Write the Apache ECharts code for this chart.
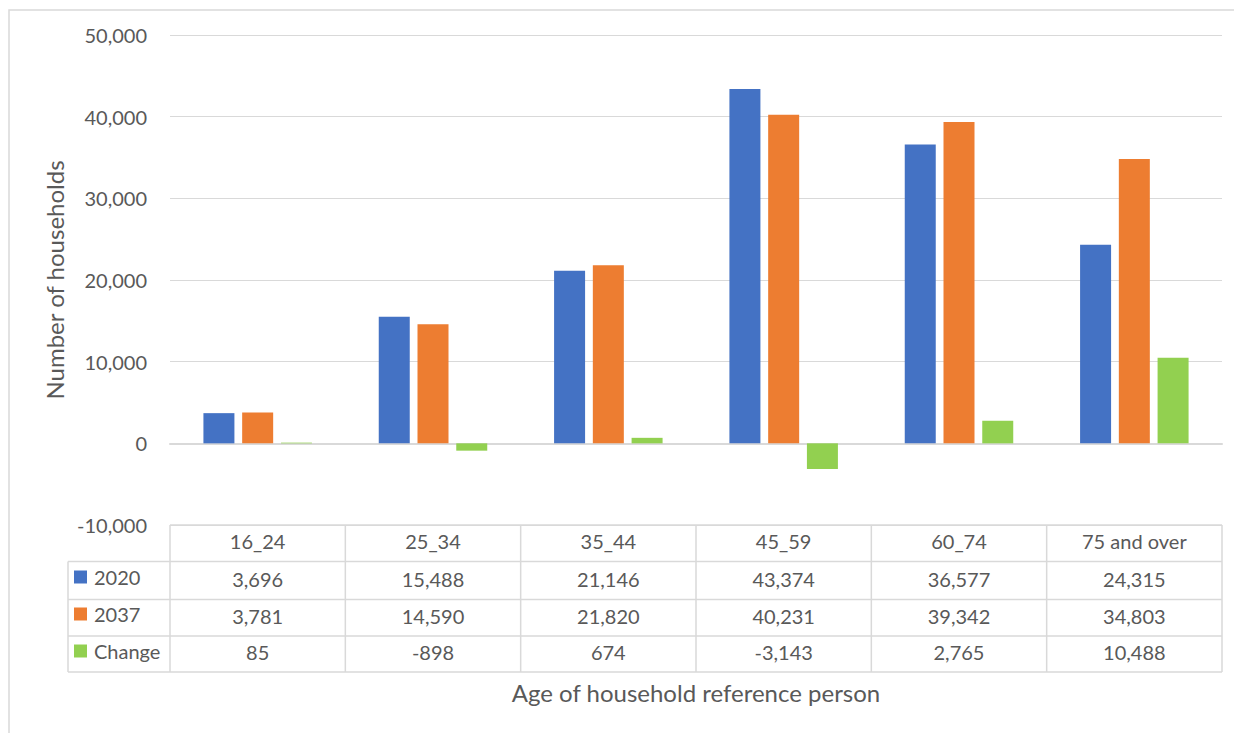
<!DOCTYPE html>
<html>
<head>
<meta charset="utf-8">
<script src="https://cdn.jsdelivr.net/npm/echarts@6/dist/echarts.min.js"></script>
<style>
  html, body { margin: 0; padding: 0; background: #ffffff; }
  #chart { width: 1234px; height: 733px; }
</style>
</head>
<body>
<div id="chart"></div>
<script>
// Households by age of household reference person, 2020 vs 2037
const ageGroups = ['16_24', '25_34', '35_44', '45_59', '60_74', '75 and over'];
const households2020 = [3696, 15488, 21146, 43374, 36577, 24315];
const households2037 = [3781, 14590, 21820, 40231, 39342, 34803];
const householdChange = [85, -898, 674, -3143, 2765, 10488];
const seriesNames = ['2020', '2037', 'Change'];
const yMin = -10000, yMax = 50000, yStep = 10000;

const colours = ['#4472C4', '#ED7D31', '#92D050'];
const textGrey = '#595959';
const lineGrey = '#D9D9D9';
const fontFamily = 'Lato, "Open Sans", sans-serif';
const fmt = v => v.toLocaleString('en-US');

const chart = echarts.init(document.getElementById('chart'), null, { renderer: 'svg' });

const seriesData = [households2020, households2037, householdChange];

chart.setOption({
  animation: false,
  color: colours,
  textStyle: { fontFamily: fontFamily },
  grid: { left: 170, right: 12, top: 35, bottom: 208, containLabel: false },
  legend: {
    data: seriesNames,
    orient: 'vertical',
    left: 74,
    top: 567,
    padding: 0,
    itemWidth: 13,
    itemHeight: 13,
    itemGap: 17,
    icon: 'rect',
    selectedMode: false,
    textStyle: { color: textGrey, fontSize: 20, lineHeight: 20, fontFamily: fontFamily, padding: [0, 0, 0, 2] }
  },
  xAxis: {
    type: 'category',
    data: ageGroups,
    axisLine: { onZero: true, lineStyle: { color: lineGrey, width: 2 } },
    axisTick: { show: false },
    axisLabel: { show: false },
    splitLine: { show: false }
  },
  yAxis: {
    type: 'value',
    min: yMin,
    max: yMax,
    interval: yStep,
    name: 'Number of households',
    nameLocation: 'middle',
    nameGap: 99,
    nameTextStyle: { color: textGrey, fontSize: 24, fontFamily: fontFamily },
    axisLine: { show: false },
    axisTick: { show: false },
    axisLabel: { color: textGrey, fontSize: 20, margin: 23, formatter: v => fmt(v), fontFamily: fontFamily },
    splitLine: { lineStyle: { color: lineGrey, width: 1 } }
  },
  series: seriesNames.map((name, i) => ({
    name: name,
    type: 'bar',
    data: seriesData[i],
    barWidth: 31,
    barGap: '25%',
    itemStyle: { color: colours[i] }
  }))
});

// Data table under the plot, aligned to the category axis
function drawTable() {
  const centres = ageGroups.map(c => chart.convertToPixel({ xAxisIndex: 0 }, c));
  const half = (centres[1] - centres[0]) / 2;
  const xLeft = centres[0] - half;
  const xRight = centres[centres.length - 1] + half;
  const labelColLeft = 68;
  const top = chart.convertToPixel({ yAxisIndex: 0 }, yMin);
  const rowHeights = [36.5, 38, 36.5, 36];
  const rowY = [top];
  rowHeights.forEach(h => rowY.push(rowY[rowY.length - 1] + h));

  const els = [];
  const line = (x1, y1, x2, y2) => els.push({
    type: 'line', silent: true,
    shape: { x1, y1, x2, y2 },
    style: { stroke: lineGrey, lineWidth: 1.5 }
  });
  const text = (t, x, y) => els.push({
    type: 'text', silent: true,
    style: { text: t, x, y, align: 'center', verticalAlign: 'middle', fill: textGrey, fontSize: 20, fontFamily: fontFamily }
  });

  // horizontal rules
  line(xLeft, rowY[0], xRight, rowY[0]);
  for (let r = 1; r < rowY.length; r++) line(labelColLeft, rowY[r], xRight, rowY[r]);
  // vertical rules
  line(labelColLeft, rowY[1], labelColLeft, rowY[rowY.length - 1]);
  for (let c = 0; c <= ageGroups.length; c++) {
    const x = xLeft + c * 2 * half;
    line(x, rowY[0], x, rowY[rowY.length - 1]);
  }
  // header row
  ageGroups.forEach((g, c) => text(g, centres[c], (rowY[0] + rowY[1]) / 2 - 2));
  // value rows
  seriesData.forEach((vals, r) => {
    vals.forEach((v, c) => text(fmt(v), centres[c], (rowY[r + 1] + rowY[r + 2]) / 2 - 2));
  });

  // axis title below the table
  els.push({
    type: 'text', silent: true,
    style: { text: 'Age of household reference person', x: (xLeft + xRight) / 2, y: 692,
             align: 'center', verticalAlign: 'middle', fill: textGrey, fontSize: 24, fontFamily: fontFamily }
  });

  // chart-area frame
  els.push({
    type: 'rect', silent: true, z: -1,
    shape: { x: 9, y: 10, width: 1400, height: 900 },
    style: { fill: 'none', stroke: lineGrey, lineWidth: 1.5 }
  });

  chart.setOption({ graphic: { elements: els } });
}
drawTable();
</script>
</body>
</html>
